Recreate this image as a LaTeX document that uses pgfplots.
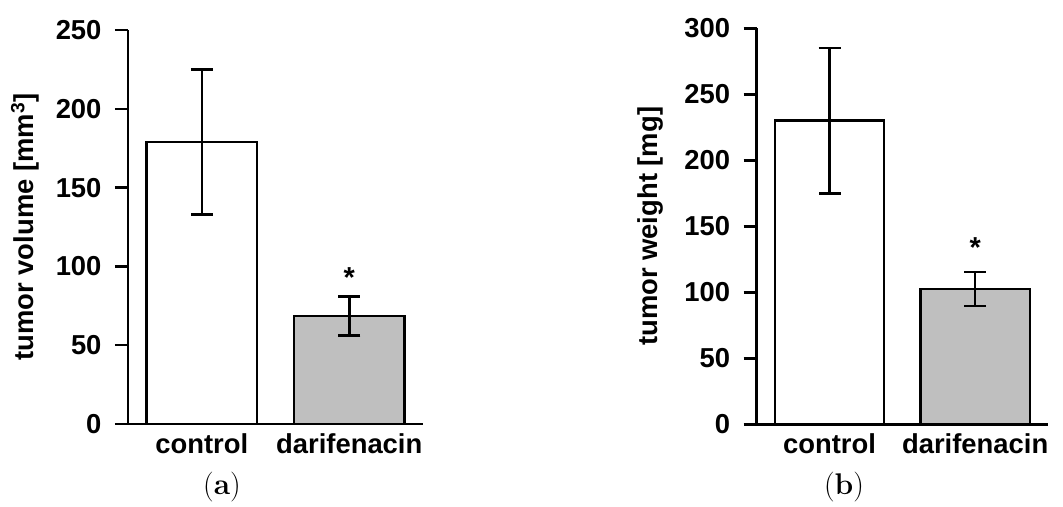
\documentclass[border=0pt]{standalone}
\usepackage{pgfplots}
\pgfplotsset{compat=1.18}
\usepackage{fontspec}
\newfontfamily\arial{Liberation Sans}
\definecolor{bargray}{RGB}{191,191,191}
\pgfplotsset{panel/.style={
  scale only axis,
  axis x line*=bottom, axis y line*=left,
  axis line style={-, line width=2.5bp, black},
  xmin=-0.5, xmax=1.5, ymin=0,
  xtick={0,1}, xticklabels={control,darifenacin},
  x tick style={draw=none},
  y tick style={line width=2.5bp, black},
  tick align=outside, major tick length=13bp,
  /pgf/number format/assume math mode=true,
  tick label style={font=\arial\bfseries\fontsize{27.5}{31}\selectfont, text=black},
  label style={font=\arial\bfseries\fontsize{27.5}{31}\selectfont},
  yticklabel style={xshift=-10bp},
  xticklabel style={yshift=7bp},
  clip=false,
}}
\pgfplotsset{barplot/.style={ybar, bar width=0.75, draw=black, line width=2.5bp,
  error bars/y dir=both, error bars/y explicit,
  error bars/error bar style={line width=2.5bp, black},
  error bars/error mark options={rotate=90, line width=2.5bp, black, mark size=11bp}}}
\begin{document}
\begin{tikzpicture}
\useasboundingbox (0,0) rectangle (1063bp,507bp);
% (a)
\begin{axis}[panel, at={(128bp,83bp)}, anchor=south west,
  width=295bp, height=394bp, ymax=250, ytick={0,50,...,250},
  ylabel={tumor volume [mm\textsuperscript{3}]},
  ylabel style={at={(axis description cs:-0.349,0.5)}, anchor=center}]
\addplot[barplot, fill=white] coordinates {(0,179) +- (0,46)};
\addplot[barplot, fill=bargray] coordinates {(1,68.5) +- (0,12.5)};
\node[font=\arial\bfseries\fontsize{29}{31}\selectfont] at (axis cs:1,93) {*};
\end{axis}
% (b)
\begin{axis}[panel, at={(756.7bp,82.7bp)}, anchor=south west,
  width=291.3bp, height=396bp, ymax=300, ytick={0,50,...,300},
  ylabel={tumor weight [mg]},
  ylabel style={at={(axis description cs:-0.366,0.5)}, anchor=center}]
\addplot[barplot, fill=white] coordinates {(0,230) +- (0,55)};
\addplot[barplot, fill=bargray] coordinates {(1,102.5) +- (0,12.7)};
\node[font=\arial\bfseries\fontsize{29}{31}\selectfont] at (axis cs:1,134) {*};
\end{axis}
\node[font=\fontsize{30}{34}\selectfont] at (222bp,20bp) {(\textbf{a})};
\node[font=\fontsize{30}{34}\selectfont] at (844bp,20bp) {(\textbf{b})};
\end{tikzpicture}
\end{document}
